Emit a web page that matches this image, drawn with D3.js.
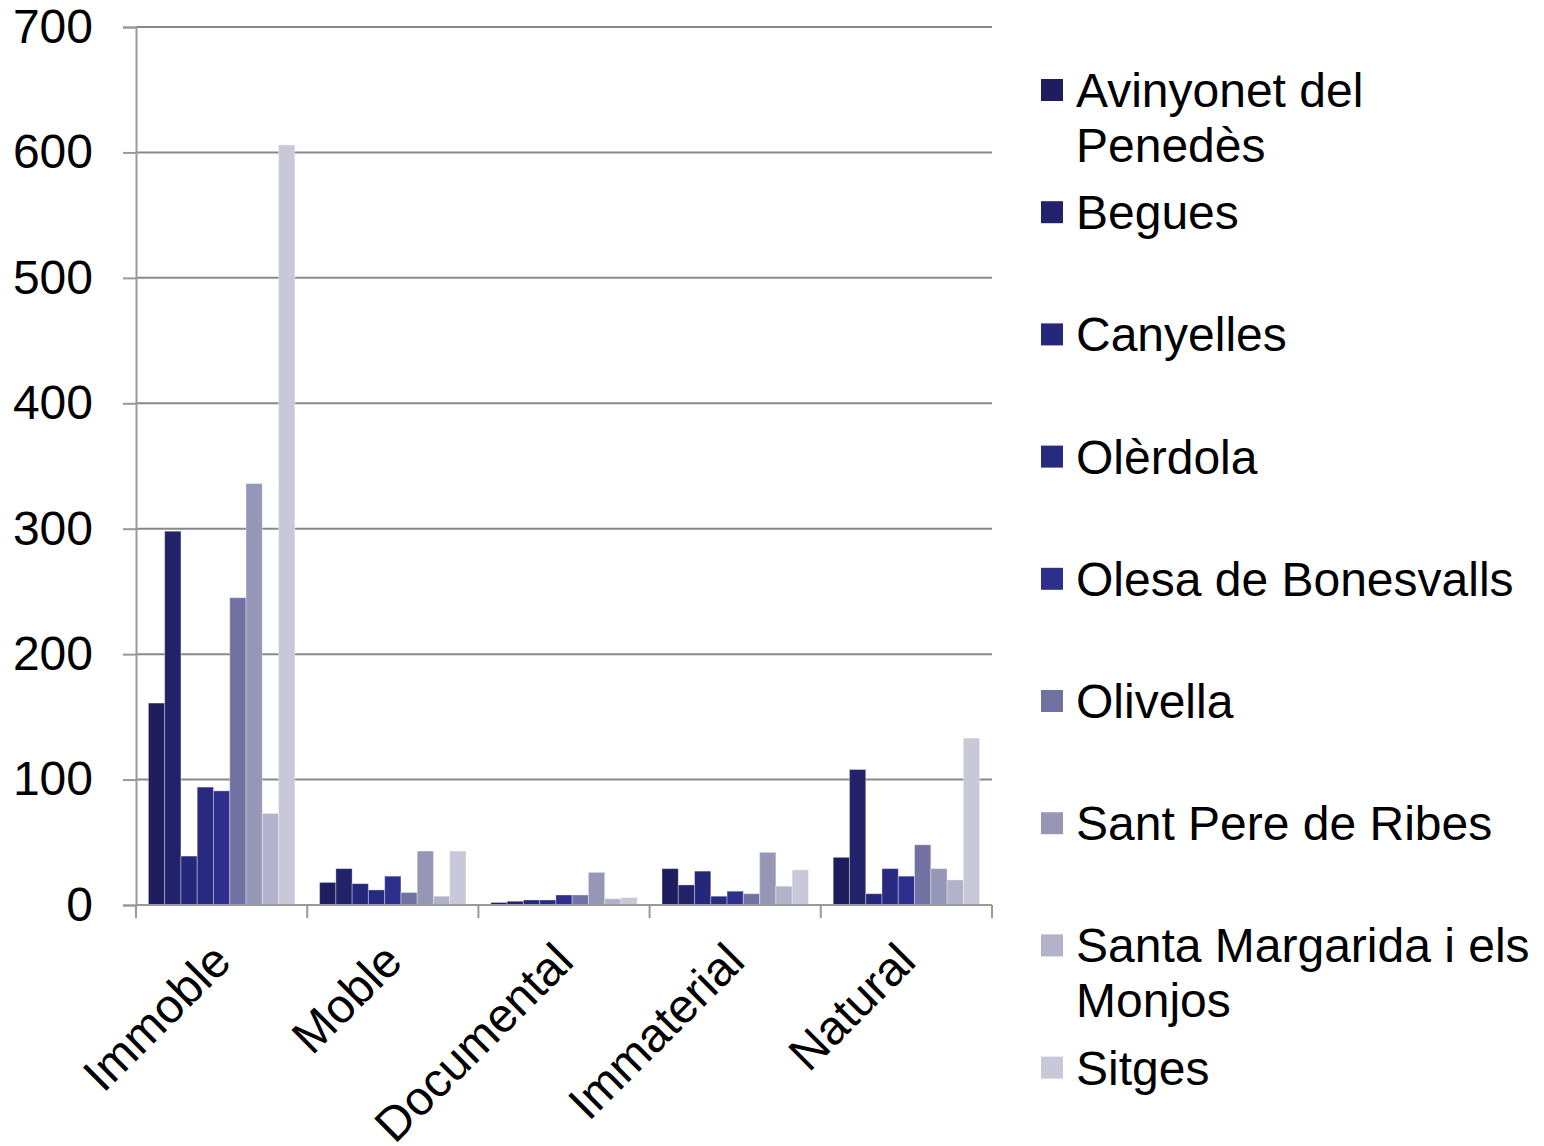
<!DOCTYPE html>
<html><head><meta charset="utf-8">
<script src="https://cdn.jsdelivr.net/npm/d3@7"></script>
<style>body{margin:0;background:#fff}svg{display:block}text{font-family:"Liberation Sans",Arial,sans-serif}</style>
</head><body><svg id="c" width="1544" height="1146"></svg>
<script>
const categories = ["Immoble","Moble","Documental","Immaterial","Natural"];
const seriesNames = [["Avinyonet del","Penedès"],["Begues"],["Canyelles"],["Olèrdola"],["Olesa de Bonesvalls"],["Olivella"],["Sant Pere de Ribes"],["Santa Margarida i els","Monjos"],["Sitges"]];
const seriesColors = ["#1f1d5e","#22226b","#25277a","#282a80","#2e2f8c","#7272a2","#9696b6","#b2b2cb","#c8c8d9"];
const avinyonet = [161,18,2,29,38];
const begues = [298,29,3,16,108];
const canyelles = [39,17,4,27,9];
const olerdola = [94,12,4,7,29];
const olesa = [91,23,8,11,23];
const olivella = [245,10,8,9,48];
const santPere = [336,43,26,42,29];
const santaMargarida = [73,7,5,15,20];
const sitges = [606,43,6,28,133];
const yTicks = [0,100,200,300,400,500,600,700];

const seriesValues = [avinyonet,begues,canyelles,olerdola,olesa,olivella,santPere,santaMargarida,sitges];

const svg = d3.select("#c");
const L = 136, R = 992, T = 27, B = 905;
const x0 = d3.scaleBand().domain(categories).range([L,R]).paddingInner(0).paddingOuter(0);
const x1 = d3.scaleBand().domain(d3.range(9)).range([12.4, x0.bandwidth()-12.4]);
const y = d3.scaleLinear().domain([0,700]).range([B,T]);

// gridlines
svg.append("g").selectAll("line").data(yTicks.filter(d=>d>0)).join("line")
  .attr("x1",L).attr("x2",R).attr("y1",d=>y(d)).attr("y2",d=>y(d))
  .attr("stroke","#888").attr("stroke-width",2);

// y axis
const yAxis = svg.append("g").attr("transform",`translate(${L},0)`)
  .call(d3.axisLeft(y).tickValues(yTicks).tickSize(13).tickPadding(30).tickFormat(d3.format("d")));
yAxis.select(".domain").attr("stroke","#999").attr("stroke-width",2);
yAxis.selectAll(".tick line").attr("stroke","#999").attr("stroke-width",2);
yAxis.selectAll(".tick text").attr("font-size",48).attr("fill","#000").attr("font-family","Liberation Sans, Arial, sans-serif");

// bars
const g = svg.append("g");
categories.forEach((c,ci)=>{
  seriesValues.forEach((vals,si)=>{
    g.append("rect")
      .attr("x", x0(c)+x1(si)).attr("width", x1.bandwidth())
      .attr("y", y(vals[ci])).attr("height", B - y(vals[ci]))
      .attr("fill", seriesColors[si])
      .attr("stroke","rgba(255,255,255,0.35)").attr("stroke-width",1);
  });
});

// x axis
const xAxis = svg.append("g").attr("transform",`translate(0,${B})`);
xAxis.append("line").attr("x1",L).attr("x2",R).attr("stroke","#999").attr("stroke-width",2);
xAxis.selectAll(".tk").data(d3.range(categories.length+1)).join("line")
  .attr("x1",i=>L+i*x0.bandwidth()).attr("x2",i=>L+i*x0.bandwidth())
  .attr("y1",0).attr("y2",13).attr("stroke","#999").attr("stroke-width",2);
xAxis.selectAll(".lbl").data(categories).join("text")
  .attr("text-anchor","end").attr("font-size",48)
  .attr("transform",d=>`translate(${x0(d)+x0.bandwidth()/2-12},${35}) rotate(-45)`)
  .attr("dy","0.7em")
  .text(d=>d);

// legend
const lg = svg.append("g");
seriesNames.forEach((lines,i)=>{
  const cy = 90 + 122.2*i;
  lg.append("rect").attr("x",1041).attr("y",cy-11).attr("width",22).attr("height",22).attr("fill",seriesColors[i]);
  const t = lg.append("text").attr("x",1076).attr("y",cy+17).attr("font-size",48).attr("fill","#000");
  lines.forEach((ln,k)=>{
    t.append("tspan").attr("x",1076).attr("dy",k===0?0:55).text(ln);
  });
});
</script></body></html>
